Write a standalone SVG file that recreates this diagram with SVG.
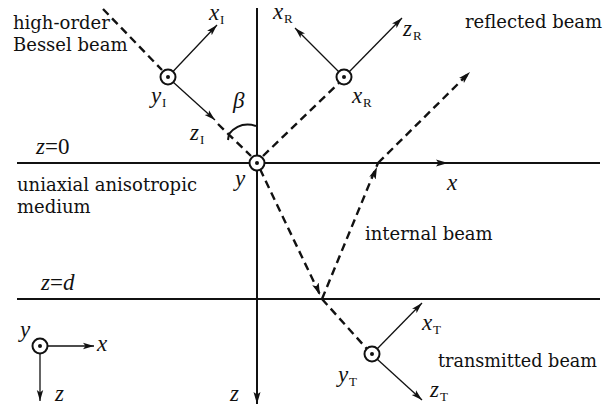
<svg xmlns="http://www.w3.org/2000/svg" width="610" height="410" viewBox="0 0 610 410">
<style>
.ax{stroke:#111;stroke-width:2;fill:none}
.th{stroke:#111;stroke-width:1.3;fill:none}
.ds{stroke:#111;stroke-width:2.4;fill:none;stroke-dasharray:8 5}
.inv{stroke:none;fill:none}
.c{fill:#fff;stroke:#111;stroke-width:2}
</style>
<defs>
<marker id="a" markerUnits="userSpaceOnUse" markerWidth="12" markerHeight="8" refX="11" refY="4" orient="auto">
<path d="M0,0.8 L11,4 L0,7.2 L2.5,4 z" fill="#111"/>
</marker>
<marker id="b" markerUnits="userSpaceOnUse" markerWidth="13" markerHeight="9" refX="12" refY="4.5" orient="auto">
<path d="M0,1 L12,4.5 L0,8 L2.5,4.5 z" fill="#111"/>
</marker>
<g id="dot"><circle r="7.5" class="c"/><circle r="2" fill="#111"/></g>
</defs>

<g id="connectors">
<line x1="17" y1="163" x2="600" y2="163" class="ax"/>
<line x1="440" y1="163" x2="448" y2="163" class="inv" marker-end="url(#b)"/>
<line x1="17" y1="299" x2="600" y2="299" class="ax"/>
<line x1="257" y1="8" x2="257" y2="404" class="ax" marker-end="url(#b)"/>
<line x1="103" y1="9" x2="162" y2="70" class="ds"/>
<line x1="218" y1="124" x2="251" y2="156" class="ds"/>
<line x1="263" y1="156" x2="339" y2="83" class="ds"/>
<line x1="260" y1="169" x2="322" y2="299" class="ds"/>
<line x1="316.8" y1="287.2" x2="320" y2="295" class="inv" marker-end="url(#b)"/>
<line x1="322" y1="299" x2="378" y2="163" class="ds"/>
<line x1="374.8" y1="172.4" x2="377" y2="167" class="inv" marker-end="url(#b)"/>
<line x1="378" y1="163" x2="470" y2="72" class="ds" marker-end="url(#b)"/>
<line x1="322" y1="299" x2="367" y2="349" class="ds"/>
<path d="M228,140 L229,134 Q240,121 256,126" class="ax"/>
</g>

<g id="math" font-family="Liberation Serif, Times New Roman, serif" fill="#111">
<g id="frame-I">
<line x1="173" y1="71.5" x2="217" y2="25" class="th" marker-end="url(#a)"/>
<line x1="173" y1="82" x2="215" y2="120" class="th" marker-end="url(#a)"/>
<use href="#dot" x="168" y="77"/>
<text x="209" y="20" font-style="italic" font-size="23">x</text><text x="220" y="24" font-size="13">I</text>
<text x="151" y="103" font-style="italic" font-size="23">y</text><text x="162" y="107" font-size="13">I</text>
<text x="190" y="140" font-style="italic" font-size="23">z</text><text x="200" y="144" font-size="13">I</text>
</g>

<g id="origin">
<use href="#dot" x="257" y="163"/>
<text x="235" y="186" font-style="italic" font-size="23">y</text>
<text x="233" y="108" font-style="italic" font-size="23">β</text>
</g>

<g id="frame-R">
<line x1="339" y1="72" x2="295" y2="28" class="th" marker-end="url(#a)"/>
<line x1="349" y1="72" x2="402" y2="18" class="th" marker-end="url(#a)"/>
<use href="#dot" x="344" y="77"/>
<text x="273" y="19" font-style="italic" font-size="23">x</text><text x="284" y="23" font-size="13">R</text>
<text x="403" y="36" font-style="italic" font-size="23">z</text><text x="413" y="40" font-size="13">R</text>
<text x="352" y="103" font-style="italic" font-size="23">x</text><text x="363" y="107" font-size="13">R</text>
</g>

<g id="frame-T">
<line x1="377" y1="349" x2="422" y2="303" class="th" marker-end="url(#a)"/>
<line x1="377" y1="359" x2="422" y2="400" class="th" marker-end="url(#a)"/>
<use href="#dot" x="372" y="354"/>
<text x="422" y="330" font-style="italic" font-size="23">x</text><text x="433" y="334" font-size="13">T</text>
<text x="338" y="382" font-style="italic" font-size="23">y</text><text x="349" y="386" font-size="13">T</text>
<text x="430" y="397" font-style="italic" font-size="23">z</text><text x="440" y="401" font-size="13">T</text>
</g>

<g id="frame-global">
<line x1="48" y1="346" x2="94" y2="346" class="th" marker-end="url(#a)"/>
<line x1="40" y1="354" x2="40" y2="401" class="th" marker-end="url(#a)"/>
<use href="#dot" x="40" y="346"/>
<text x="20" y="337" font-style="italic" font-size="23">y</text>
<text x="97" y="351" font-style="italic" font-size="23">x</text>
<text x="55" y="401" font-style="italic" font-size="23">z</text>
<text x="230" y="401" font-style="italic" font-size="23">z</text>
<text x="447" y="190" font-style="italic" font-size="23">x</text>
</g>

<g id="boundaries" font-size="23">
<text x="36" y="154"><tspan font-style="italic">z</tspan>=0</text>
<text x="41" y="290"><tspan font-style="italic">z</tspan>=<tspan font-style="italic">d</tspan></text>
</g>
</g>

<g id="labels" font-family="DejaVu Serif, serif" font-size="18" fill="#111">
<text x="13" y="29">high-order</text>
<text x="13" y="51">Bessel beam</text>
<text x="465" y="28">reflected beam</text>
<text x="17" y="191">uniaxial anisotropic</text>
<text x="17" y="213">medium</text>
<text x="365" y="240">internal beam</text>
<text x="438" y="367" textLength="159" lengthAdjust="spacingAndGlyphs">transmitted beam</text>
</g>
</svg>
